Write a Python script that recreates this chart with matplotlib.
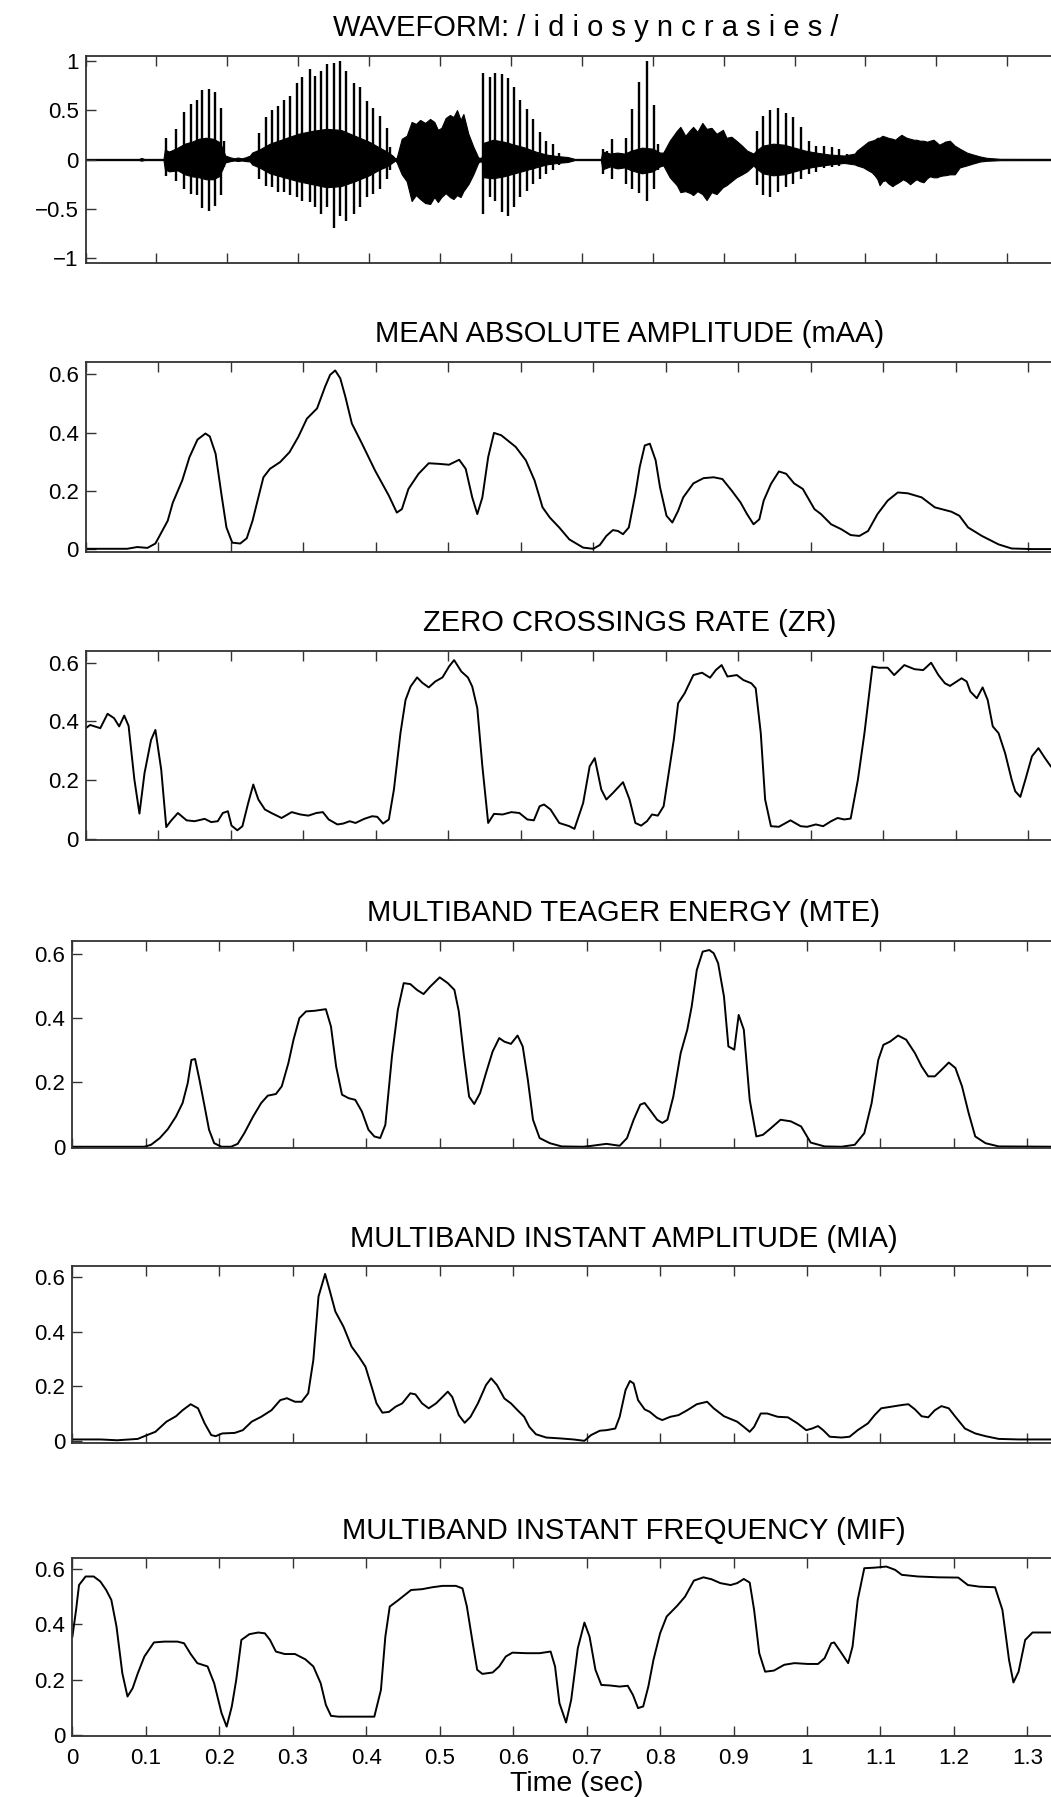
import matplotlib.pyplot as plt
import numpy as np

plt.rcParams['font.family'] = ['Liberation Sans', 'DejaVu Sans']

# ---- waveform: envelope of the dense part and the glottal pulses ----
wave_t = [0.000, 0.075, 0.079, 0.083, 0.110, 0.112, 0.118, 0.130, 0.140, 0.150, 0.160, 0.170,
          0.180, 0.188, 0.193, 0.197, 0.205, 0.210, 0.215, 0.220, 0.225, 0.232, 0.235, 0.245,
          0.260, 0.280, 0.300, 0.320, 0.340, 0.360, 0.380, 0.400, 0.415, 0.425, 0.433, 0.437,
          0.439, 0.446, 0.453, 0.460, 0.466, 0.472, 0.479, 0.486, 0.492, 0.497, 0.502, 0.508,
          0.514, 0.519, 0.524, 0.529, 0.533, 0.540, 0.547, 0.554, 0.558, 0.560, 0.562, 0.575,
          0.590, 0.605, 0.620, 0.635, 0.650, 0.665, 0.680, 0.688, 0.690, 0.727, 0.729, 0.740,
          0.750, 0.760, 0.770, 0.785, 0.800, 0.810, 0.815, 0.824, 0.834, 0.839, 0.846, 0.853,
          0.857, 0.863, 0.870, 0.876, 0.883, 0.890, 0.899, 0.904, 0.911, 0.918, 0.926, 0.933,
          0.942, 0.946, 0.955, 0.970, 0.985, 1.000, 1.015, 1.030, 1.050, 1.070, 1.085, 1.088,
          1.097, 1.104, 1.109, 1.113, 1.117, 1.120, 1.124, 1.128, 1.132, 1.138, 1.142, 1.147,
          1.151, 1.153, 1.158, 1.163, 1.168, 1.172, 1.177, 1.182, 1.187, 1.191, 1.196, 1.201,
          1.204, 1.210, 1.212, 1.219, 1.226, 1.233, 1.243, 1.252, 1.262, 1.271, 1.290, 1.410]
wave_hi = [0.006, 0.006, 0.015, 0.006, 0.006, 0.10, 0.08, 0.12, 0.16, 0.18, 0.21, 0.22,
           0.21, 0.18, 0.12, 0.04, 0.02, 0.012, 0.02, 0.012, 0.02, 0.04, 0.07, 0.10,
           0.16, 0.21, 0.26, 0.29, 0.31, 0.30, 0.24, 0.18, 0.12, 0.08, 0.04, 0.01,
           0.02, 0.21, 0.24, 0.38, 0.36, 0.40, 0.37, 0.41, 0.38, 0.30, 0.32, 0.42,
           0.45, 0.43, 0.50, 0.40, 0.46, 0.26, 0.13, 0.02, 0.015, 0.05, 0.17, 0.20,
           0.18, 0.15, 0.12, 0.08, 0.05, 0.035, 0.025, 0.01, 0.006, 0.006, 0.08, 0.06,
           0.07, 0.06, 0.09, 0.12, 0.11, 0.07, 0.07, 0.19, 0.29, 0.33, 0.24, 0.30,
           0.33, 0.28, 0.37, 0.31, 0.32, 0.26, 0.30, 0.22, 0.23, 0.19, 0.14, 0.09,
           0.06, 0.09, 0.14, 0.16, 0.15, 0.12, 0.09, 0.07, 0.05, 0.04, 0.06, 0.09,
           0.14, 0.18, 0.19, 0.20, 0.22, 0.22, 0.24, 0.23, 0.22, 0.21, 0.20, 0.23,
           0.25, 0.24, 0.22, 0.21, 0.20, 0.20, 0.19, 0.19, 0.18, 0.19, 0.20, 0.17,
           0.15, 0.17, 0.18, 0.19, 0.14, 0.11, 0.07, 0.05, 0.03, 0.017, 0.007, 0.006]
wave_lo = [-0.006, -0.006, -0.012, -0.006, -0.006, -0.10, -0.12, -0.11, -0.15, -0.17, -0.18, -0.20,
           -0.20, -0.17, -0.10, -0.03, -0.015, -0.01, -0.015, -0.01, -0.015, -0.02, -0.05, -0.08,
           -0.14, -0.18, -0.22, -0.25, -0.28, -0.27, -0.22, -0.16, -0.10, -0.07, -0.03, -0.01,
           -0.03, -0.15, -0.22, -0.42, -0.36, -0.40, -0.44, -0.45, -0.38, -0.43, -0.38, -0.34,
           -0.38, -0.40, -0.36, -0.38, -0.32, -0.25, -0.15, -0.03, -0.015, -0.05, -0.18, -0.19,
           -0.17, -0.14, -0.11, -0.08, -0.05, -0.035, -0.025, -0.01, -0.006, -0.006, -0.10, -0.07,
           -0.09, -0.08, -0.11, -0.14, -0.12, -0.07, -0.06, -0.18, -0.26, -0.33, -0.32, -0.34,
           -0.36, -0.32, -0.35, -0.41, -0.33, -0.35, -0.28, -0.26, -0.22, -0.18, -0.15, -0.12,
           -0.06, -0.09, -0.14, -0.16, -0.15, -0.12, -0.09, -0.07, -0.05, -0.035, -0.05, -0.06,
           -0.08, -0.11, -0.13, -0.16, -0.20, -0.26, -0.22, -0.21, -0.24, -0.27, -0.25, -0.23,
           -0.21, -0.20, -0.22, -0.25, -0.22, -0.20, -0.22, -0.23, -0.19, -0.17, -0.18, -0.18,
           -0.17, -0.16, -0.16, -0.15, -0.15, -0.08, -0.06, -0.04, -0.02, -0.013, -0.007, -0.006]

pulse_t = [0.114, 0.120, 0.128, 0.139, 0.149, 0.157, 0.165, 0.174, 0.183, 0.191, 0.195,
           0.245, 0.254, 0.263, 0.272, 0.280, 0.288, 0.298, 0.306, 0.316, 0.324, 0.332,
           0.341, 0.350, 0.359, 0.368, 0.378, 0.387, 0.397, 0.406, 0.415, 0.425, 0.430,
           0.561, 0.570, 0.578, 0.587, 0.596, 0.604, 0.613, 0.623, 0.631, 0.641, 0.649,
           0.659, 0.668,
           0.730, 0.735, 0.743, 0.763, 0.771, 0.781, 0.792, 0.802, 0.808,
           0.947, 0.956, 0.966, 0.977, 0.988, 0.998, 1.009, 1.020, 1.030, 1.042, 1.053,
           1.063, 1.074]
pulse_hi = [0.22, 0.09, 0.31, 0.48, 0.56, 0.60, 0.70, 0.71, 0.68, 0.52, 0.19,
            0.27, 0.43, 0.50, 0.54, 0.60, 0.64, 0.77, 0.83, 0.92, 0.84, 0.90,
            0.97, 0.98, 1.00, 0.90, 0.77, 0.73, 0.59, 0.52, 0.44, 0.32, 0.13,
            0.875, 0.83, 0.875, 0.86, 0.82, 0.73, 0.60, 0.51, 0.41, 0.28, 0.19,
            0.16, 0.07,
            0.11, 0.09, 0.21, 0.22, 0.51, 0.78, 1.00, 0.55, 0.16,
            0.29, 0.44, 0.50, 0.52, 0.47, 0.43, 0.33, 0.19, 0.14, 0.14, 0.13,
            0.11, 0.06]
pulse_lo = [-0.17, -0.11, -0.22, -0.30, -0.35, -0.36, -0.49, -0.52, -0.47, -0.36, -0.08,
            -0.20, -0.27, -0.28, -0.33, -0.33, -0.36, -0.38, -0.42, -0.43, -0.48, -0.55,
            -0.48, -0.69, -0.57, -0.62, -0.55, -0.48, -0.38, -0.35, -0.30, -0.20, -0.11,
            -0.55, -0.38, -0.42, -0.53, -0.57, -0.48, -0.38, -0.32, -0.25, -0.20, -0.15,
            -0.11, -0.06,
            -0.15, -0.09, -0.20, -0.25, -0.30, -0.34, -0.42, -0.30, -0.11,
            -0.26, -0.36, -0.38, -0.33, -0.28, -0.25, -0.20, -0.15, -0.13, -0.09, -0.08,
            -0.07, -0.04]

# ---- mean absolute amplitude ----
maa_t = [0.000, 0.057, 0.071, 0.085, 0.096, 0.113, 0.120, 0.133, 0.143, 0.154, 0.165, 0.171,
         0.179, 0.187, 0.194, 0.202, 0.213, 0.222, 0.230, 0.238, 0.245, 0.254, 0.268, 0.281,
         0.293, 0.305, 0.319, 0.330, 0.337, 0.344, 0.351, 0.358, 0.367, 0.381, 0.399, 0.418,
         0.429, 0.436, 0.445, 0.459, 0.473, 0.487, 0.501, 0.515, 0.524, 0.533, 0.540, 0.547,
         0.555, 0.563, 0.573, 0.593, 0.607, 0.619, 0.630, 0.640, 0.653, 0.667, 0.686, 0.700,
         0.709, 0.718, 0.727, 0.734, 0.741, 0.749, 0.758, 0.764, 0.771, 0.778, 0.786, 0.792,
         0.801, 0.809, 0.817, 0.824, 0.838, 0.852, 0.866, 0.878, 0.891, 0.903, 0.912, 0.921,
         0.929, 0.935, 0.945, 0.956, 0.966, 0.977, 0.989, 1.005, 1.014, 1.028, 1.042, 1.055,
         1.067, 1.079, 1.092, 1.106, 1.120, 1.134, 1.153, 1.171, 1.194, 1.205, 1.217, 1.236,
         1.259, 1.277, 1.305, 1.340]
maa_v = [0.002, 0.002, 0.008, 0.005, 0.020, 0.098, 0.160, 0.236, 0.316, 0.376, 0.397, 0.387,
         0.328, 0.190, 0.075, 0.023, 0.020, 0.038, 0.098, 0.178, 0.247, 0.276, 0.299, 0.333,
         0.385, 0.448, 0.483, 0.557, 0.598, 0.613, 0.586, 0.523, 0.431, 0.362, 0.270, 0.184,
         0.126, 0.138, 0.207, 0.259, 0.295, 0.293, 0.290, 0.307, 0.276, 0.178, 0.121, 0.178,
         0.316, 0.399, 0.391, 0.351, 0.305, 0.236, 0.144, 0.109, 0.075, 0.034, 0.006, 0.002,
         0.015, 0.046, 0.066, 0.063, 0.052, 0.075, 0.190, 0.282, 0.356, 0.362, 0.305, 0.213,
         0.115, 0.092, 0.132, 0.178, 0.226, 0.244, 0.247, 0.241, 0.201, 0.161, 0.121, 0.086,
         0.103, 0.167, 0.224, 0.267, 0.259, 0.226, 0.207, 0.138, 0.121, 0.086, 0.069, 0.049,
         0.046, 0.063, 0.121, 0.167, 0.195, 0.192, 0.178, 0.144, 0.129, 0.115, 0.075, 0.046,
         0.017, 0.003, 0.001, 0.001]

# ---- zero crossings rate ----
zr_t = [0.000, 0.006, 0.020, 0.030, 0.039, 0.046, 0.053, 0.059, 0.067, 0.074, 0.081, 0.090,
        0.096, 0.104, 0.111, 0.117, 0.127, 0.139, 0.150, 0.164, 0.173, 0.182, 0.189, 0.196,
        0.201, 0.209, 0.216, 0.224, 0.231, 0.238, 0.247, 0.256, 0.270, 0.284, 0.296, 0.307,
        0.318, 0.327, 0.335, 0.347, 0.355, 0.364, 0.372, 0.384, 0.395, 0.402, 0.410, 0.418,
        0.425, 0.434, 0.441, 0.448, 0.457, 0.464, 0.473, 0.482, 0.492, 0.501, 0.508, 0.518,
        0.527, 0.533, 0.540, 0.547, 0.555, 0.563, 0.575, 0.587, 0.598, 0.609, 0.618, 0.626,
        0.632, 0.641, 0.653, 0.667, 0.674, 0.686, 0.695, 0.702, 0.711, 0.718, 0.727, 0.741,
        0.750, 0.758, 0.766, 0.774, 0.781, 0.789, 0.797, 0.804, 0.811, 0.817, 0.826, 0.838,
        0.850, 0.861, 0.869, 0.877, 0.885, 0.898, 0.907, 0.918, 0.924, 0.931, 0.937, 0.945,
        0.956, 0.972, 0.986, 0.995, 1.007, 1.017, 1.028, 1.037, 1.046, 1.055, 1.065, 1.074,
        1.085, 1.094, 1.106, 1.115, 1.129, 1.143, 1.155, 1.166, 1.176, 1.185, 1.192, 1.208,
        1.215, 1.220, 1.229, 1.237, 1.244, 1.251, 1.259, 1.268, 1.277, 1.282, 1.289, 1.296,
        1.305, 1.314, 1.323, 1.331]
zr_v = [0.377, 0.388, 0.377, 0.426, 0.411, 0.383, 0.420, 0.385, 0.202, 0.086, 0.224, 0.337,
        0.371, 0.236, 0.040, 0.060, 0.088, 0.063, 0.060, 0.068, 0.057, 0.060, 0.088, 0.094,
        0.045, 0.029, 0.043, 0.122, 0.185, 0.134, 0.100, 0.088, 0.071, 0.091, 0.083, 0.079,
        0.088, 0.091, 0.066, 0.049, 0.052, 0.060, 0.054, 0.068, 0.077, 0.075, 0.052, 0.066,
        0.168, 0.360, 0.473, 0.519, 0.550, 0.532, 0.516, 0.536, 0.550, 0.587, 0.609, 0.570,
        0.550, 0.519, 0.445, 0.247, 0.054, 0.085, 0.083, 0.091, 0.088, 0.066, 0.063, 0.111,
        0.117, 0.100, 0.054, 0.043, 0.034, 0.122, 0.247, 0.275, 0.168, 0.134, 0.156, 0.193,
        0.134, 0.054, 0.045, 0.060, 0.083, 0.079, 0.111, 0.224, 0.337, 0.462, 0.496, 0.558,
        0.566, 0.549, 0.575, 0.592, 0.553, 0.558, 0.541, 0.530, 0.513, 0.360, 0.134, 0.043,
        0.041, 0.063, 0.043, 0.041, 0.049, 0.043, 0.060, 0.071, 0.066, 0.069, 0.202, 0.360,
        0.587, 0.583, 0.583, 0.558, 0.592, 0.578, 0.575, 0.600, 0.558, 0.530, 0.521, 0.547,
        0.536, 0.502, 0.479, 0.516, 0.473, 0.383, 0.360, 0.292, 0.202, 0.162, 0.143, 0.202,
        0.281, 0.309, 0.275, 0.247]

# ---- multiband Teager energy ----
mte_t = [0.000, 0.098, 0.107, 0.119, 0.130, 0.141, 0.150, 0.157, 0.162, 0.167, 0.173, 0.180,
         0.186, 0.193, 0.203, 0.216, 0.225, 0.234, 0.246, 0.257, 0.266, 0.277, 0.285, 0.294,
         0.301, 0.309, 0.318, 0.330, 0.345, 0.352, 0.359, 0.367, 0.376, 0.385, 0.394, 0.403,
         0.411, 0.419, 0.426, 0.435, 0.443, 0.451, 0.460, 0.469, 0.478, 0.487, 0.500, 0.511,
         0.520, 0.526, 0.533, 0.540, 0.547, 0.555, 0.563, 0.572, 0.581, 0.588, 0.597, 0.606,
         0.613, 0.620, 0.627, 0.636, 0.650, 0.666, 0.695, 0.704, 0.727, 0.745, 0.755, 0.764,
         0.773, 0.779, 0.786, 0.796, 0.803, 0.810, 0.818, 0.828, 0.837, 0.843, 0.850, 0.858,
         0.867, 0.873, 0.879, 0.887, 0.893, 0.901, 0.907, 0.914, 0.922, 0.931, 0.940, 0.951,
         0.964, 0.978, 0.992, 1.005, 1.024, 1.047, 1.065, 1.078, 1.088, 1.097, 1.104, 1.113,
         1.124, 1.135, 1.147, 1.156, 1.165, 1.174, 1.183, 1.193, 1.202, 1.211, 1.220, 1.229,
         1.243, 1.261, 1.340]
mte_v = [0.000, 0.000, 0.006, 0.027, 0.055, 0.094, 0.136, 0.198, 0.270, 0.273, 0.208, 0.125,
         0.053, 0.011, 0.000, 0.000, 0.009, 0.042, 0.094, 0.136, 0.159, 0.164, 0.188, 0.260,
         0.333, 0.400, 0.421, 0.423, 0.428, 0.374, 0.250, 0.162, 0.151, 0.146, 0.110, 0.053,
         0.032, 0.027, 0.068, 0.281, 0.426, 0.509, 0.506, 0.488, 0.475, 0.498, 0.527, 0.509,
         0.488, 0.421, 0.281, 0.156, 0.133, 0.167, 0.229, 0.296, 0.338, 0.327, 0.320, 0.346,
         0.312, 0.208, 0.084, 0.027, 0.011, 0.001, 0.000, 0.002, 0.009, 0.003, 0.027, 0.084,
         0.131, 0.136, 0.115, 0.084, 0.074, 0.084, 0.156, 0.291, 0.364, 0.436, 0.550, 0.607,
         0.612, 0.602, 0.571, 0.467, 0.312, 0.302, 0.410, 0.364, 0.146, 0.032, 0.037, 0.058,
         0.084, 0.079, 0.063, 0.013, 0.001, 0.000, 0.006, 0.042, 0.136, 0.270, 0.317, 0.327,
         0.346, 0.333, 0.291, 0.250, 0.219, 0.219, 0.239, 0.262, 0.245, 0.188, 0.105, 0.032,
         0.011, 0.001, 0.000]

# ---- multiband instant amplitude ----
mia_t = [0.000, 0.038, 0.061, 0.089, 0.098, 0.113, 0.128, 0.141, 0.150, 0.161, 0.171, 0.180,
         0.189, 0.195, 0.204, 0.221, 0.232, 0.244, 0.257, 0.271, 0.283, 0.292, 0.303, 0.312,
         0.321, 0.328, 0.335, 0.344, 0.350, 0.358, 0.369, 0.380, 0.390, 0.399, 0.408, 0.414,
         0.422, 0.431, 0.440, 0.449, 0.460, 0.467, 0.476, 0.485, 0.495, 0.504, 0.511, 0.517,
         0.526, 0.534, 0.542, 0.552, 0.563, 0.570, 0.578, 0.588, 0.597, 0.606, 0.615, 0.622,
         0.631, 0.645, 0.663, 0.682, 0.697, 0.706, 0.718, 0.727, 0.739, 0.745, 0.753, 0.759,
         0.764, 0.770, 0.779, 0.786, 0.796, 0.803, 0.814, 0.825, 0.837, 0.850, 0.864, 0.873,
         0.887, 0.905, 0.914, 0.922, 0.928, 0.937, 0.946, 0.960, 0.974, 0.987, 0.999, 1.007,
         1.015, 1.022, 1.031, 1.047, 1.058, 1.069, 1.083, 1.092, 1.101, 1.115, 1.129, 1.138,
         1.147, 1.156, 1.165, 1.174, 1.183, 1.193, 1.202, 1.215, 1.229, 1.243, 1.261, 1.288,
         1.340]
mia_v = [0.005, 0.005, 0.002, 0.007, 0.017, 0.033, 0.070, 0.090, 0.112, 0.134, 0.119, 0.064,
         0.021, 0.017, 0.027, 0.029, 0.039, 0.070, 0.088, 0.112, 0.149, 0.156, 0.143, 0.143,
         0.174, 0.296, 0.528, 0.611, 0.553, 0.473, 0.418, 0.345, 0.308, 0.271, 0.192, 0.137,
         0.103, 0.106, 0.125, 0.137, 0.174, 0.170, 0.137, 0.119, 0.137, 0.161, 0.180, 0.161,
         0.094, 0.066, 0.088, 0.137, 0.204, 0.229, 0.204, 0.155, 0.137, 0.112, 0.088, 0.051,
         0.024, 0.012, 0.009, 0.005, 0.000, 0.021, 0.037, 0.039, 0.045, 0.088, 0.186, 0.219,
         0.210, 0.149, 0.115, 0.106, 0.084, 0.076, 0.088, 0.094, 0.112, 0.134, 0.143, 0.119,
         0.090, 0.070, 0.051, 0.033, 0.051, 0.100, 0.100, 0.088, 0.086, 0.064, 0.039, 0.045,
         0.054, 0.039, 0.015, 0.012, 0.015, 0.039, 0.064, 0.094, 0.119, 0.125, 0.131, 0.134,
         0.115, 0.090, 0.086, 0.112, 0.127, 0.119, 0.088, 0.045, 0.027, 0.017, 0.007, 0.005,
         0.005]

# ---- multiband instant frequency ----
mif_t = [0.000, 0.005, 0.009, 0.018, 0.029, 0.038, 0.046, 0.053, 0.060, 0.068, 0.075, 0.082,
         0.089, 0.098, 0.111, 0.125, 0.143, 0.152, 0.161, 0.170, 0.184, 0.193, 0.203, 0.210,
         0.217, 0.223, 0.230, 0.241, 0.253, 0.262, 0.269, 0.277, 0.289, 0.303, 0.317, 0.328,
         0.338, 0.345, 0.352, 0.362, 0.385, 0.411, 0.420, 0.426, 0.432, 0.444, 0.461, 0.476,
         0.490, 0.504, 0.522, 0.531, 0.537, 0.545, 0.551, 0.558, 0.572, 0.581, 0.590, 0.599,
         0.618, 0.636, 0.651, 0.657, 0.663, 0.672, 0.679, 0.688, 0.697, 0.704, 0.712, 0.720,
         0.732, 0.745, 0.756, 0.763, 0.770, 0.777, 0.784, 0.791, 0.800, 0.809, 0.823, 0.834,
         0.846, 0.859, 0.870, 0.882, 0.896, 0.905, 0.914, 0.922, 0.928, 0.935, 0.943, 0.955,
         0.969, 0.983, 1.001, 1.015, 1.024, 1.033, 1.037, 1.047, 1.056, 1.062, 1.069, 1.078,
         1.092, 1.108, 1.120, 1.129, 1.151, 1.179, 1.206, 1.219, 1.235, 1.256, 1.266, 1.275,
         1.281, 1.288, 1.297, 1.307, 1.340]
mif_v = [0.356, 0.453, 0.543, 0.574, 0.574, 0.556, 0.525, 0.489, 0.393, 0.223, 0.139, 0.169,
         0.223, 0.284, 0.335, 0.338, 0.338, 0.332, 0.293, 0.260, 0.248, 0.187, 0.079, 0.030,
         0.103, 0.199, 0.344, 0.365, 0.371, 0.368, 0.344, 0.302, 0.293, 0.293, 0.274, 0.248,
         0.187, 0.109, 0.069, 0.066, 0.066, 0.066, 0.163, 0.356, 0.465, 0.489, 0.525, 0.528,
         0.535, 0.540, 0.540, 0.531, 0.465, 0.332, 0.236, 0.221, 0.226, 0.248, 0.284, 0.298,
         0.296, 0.296, 0.302, 0.248, 0.115, 0.045, 0.127, 0.314, 0.407, 0.356, 0.236, 0.181,
         0.179, 0.175, 0.178, 0.145, 0.097, 0.103, 0.175, 0.272, 0.368, 0.429, 0.467, 0.501,
         0.559, 0.571, 0.564, 0.550, 0.543, 0.550, 0.565, 0.552, 0.453, 0.296, 0.229, 0.233,
         0.254, 0.260, 0.257, 0.257, 0.278, 0.332, 0.335, 0.296, 0.260, 0.320, 0.489, 0.604,
         0.606, 0.610, 0.598, 0.580, 0.574, 0.571, 0.570, 0.543, 0.537, 0.535, 0.453, 0.272,
         0.190, 0.229, 0.344, 0.371, 0.371]

time_ticks = [0, 0.1, 0.2, 0.3, 0.4, 0.5, 0.6, 0.7, 0.8, 0.9, 1.0, 1.1, 1.2, 1.3]
time_labels = ['0', '0.1', '0.2', '0.3', '0.4', '0.5', '0.6', '0.7', '0.8', '0.9',
               '1', '1.1', '1.2', '1.3']
wave_ticks = [-1, -0.5, 0, 0.5, 1]
wave_labels = ['\u22121', '\u22120.5', '0', '0.5', '1']
feat_ticks = [0, 0.2, 0.4, 0.6]
feat_labels = ['0', '0.2', '0.4', '0.6']

W, H = 1051, 1797
fig = plt.figure(figsize=(W / 100, H / 100), dpi=100)


def panel(left, top, bottom, width, xmax, ylim, title):
    # positions in pixels from the top-left corner; axes run past the right edge
    ax = fig.add_axes([left / W, 1 - bottom / H, width / W, (bottom - top) / H])
    ax.set_xlim(0, xmax)
    ax.set_ylim(*ylim)
    ax.set_xticks(time_ticks)
    ax.set_xticklabels([])
    ax.tick_params(direction='in', top=True, right=True, length=7, width=1,
                   color='0.2', labelsize=16)
    ax.tick_params(axis='x', pad=9)
    ax.tick_params(axis='y', pad=5)
    for s in ax.spines.values():
        s.set_linewidth(1.3)
        s.set_color('0.2')
    ax.set_title(title, fontsize=21, pad=14)
    return ax


ax1 = panel(85.5, 55.7, 263.3, 999.7, 1.41, (-1.05, 1.05),
            'WAVEFORM: / i d i o s y n c r a s i e s /')
ax1.fill_between(wave_t, wave_lo, wave_hi, color='k', lw=0.8)
ax1.vlines(pulse_t, pulse_lo, pulse_hi, colors='k', lw=1.7)
ax1.set_yticks(wave_ticks)
ax1.set_yticklabels(wave_labels)

feats = [
    (85.8, 361.7, 551.7, 1087.5, (-0.008, 0.643), maa_t, maa_v,
     'MEAN ABSOLUTE AMPLITUDE (mAA)'),
    (85.8, 650.7, 840.0, 1087.5, (-0.004, 0.641), zr_t, zr_v,
     'ZERO CROSSINGS RATE (ZR)'),
    (72.4, 940.7, 1147.7, 1101.9, (-0.003, 0.641), mte_t, mte_v,
     'MULTIBAND TEAGER ENERGY (MTE)'),
    (72.4, 1266.0, 1443.0, 1101.9, (-0.008, 0.640), mia_t, mia_v,
     'MULTIBAND INSTANT AMPLITUDE (MIA)'),
    (72.4, 1558.0, 1735.7, 1101.9, (-0.003, 0.641), mif_t, mif_v,
     'MULTIBAND INSTANT FREQUENCY (MIF)'),
]
for left, top, bottom, width, ylim, t, v, title in feats:
    ax = panel(left, top, bottom, width, 1.5, ylim, title)
    ax.plot(t, v, color='k', lw=1.4)
    ax.set_yticks(feat_ticks)
    ax.set_yticklabels(feat_labels)

ax.set_xticklabels(time_labels)
ax.set_xlabel('Time (sec)', fontsize=20.5)
ax.xaxis.set_label_coords((577 - 72.4) / 1101.9, -0.2)

fig.savefig('out.png', dpi=100)
